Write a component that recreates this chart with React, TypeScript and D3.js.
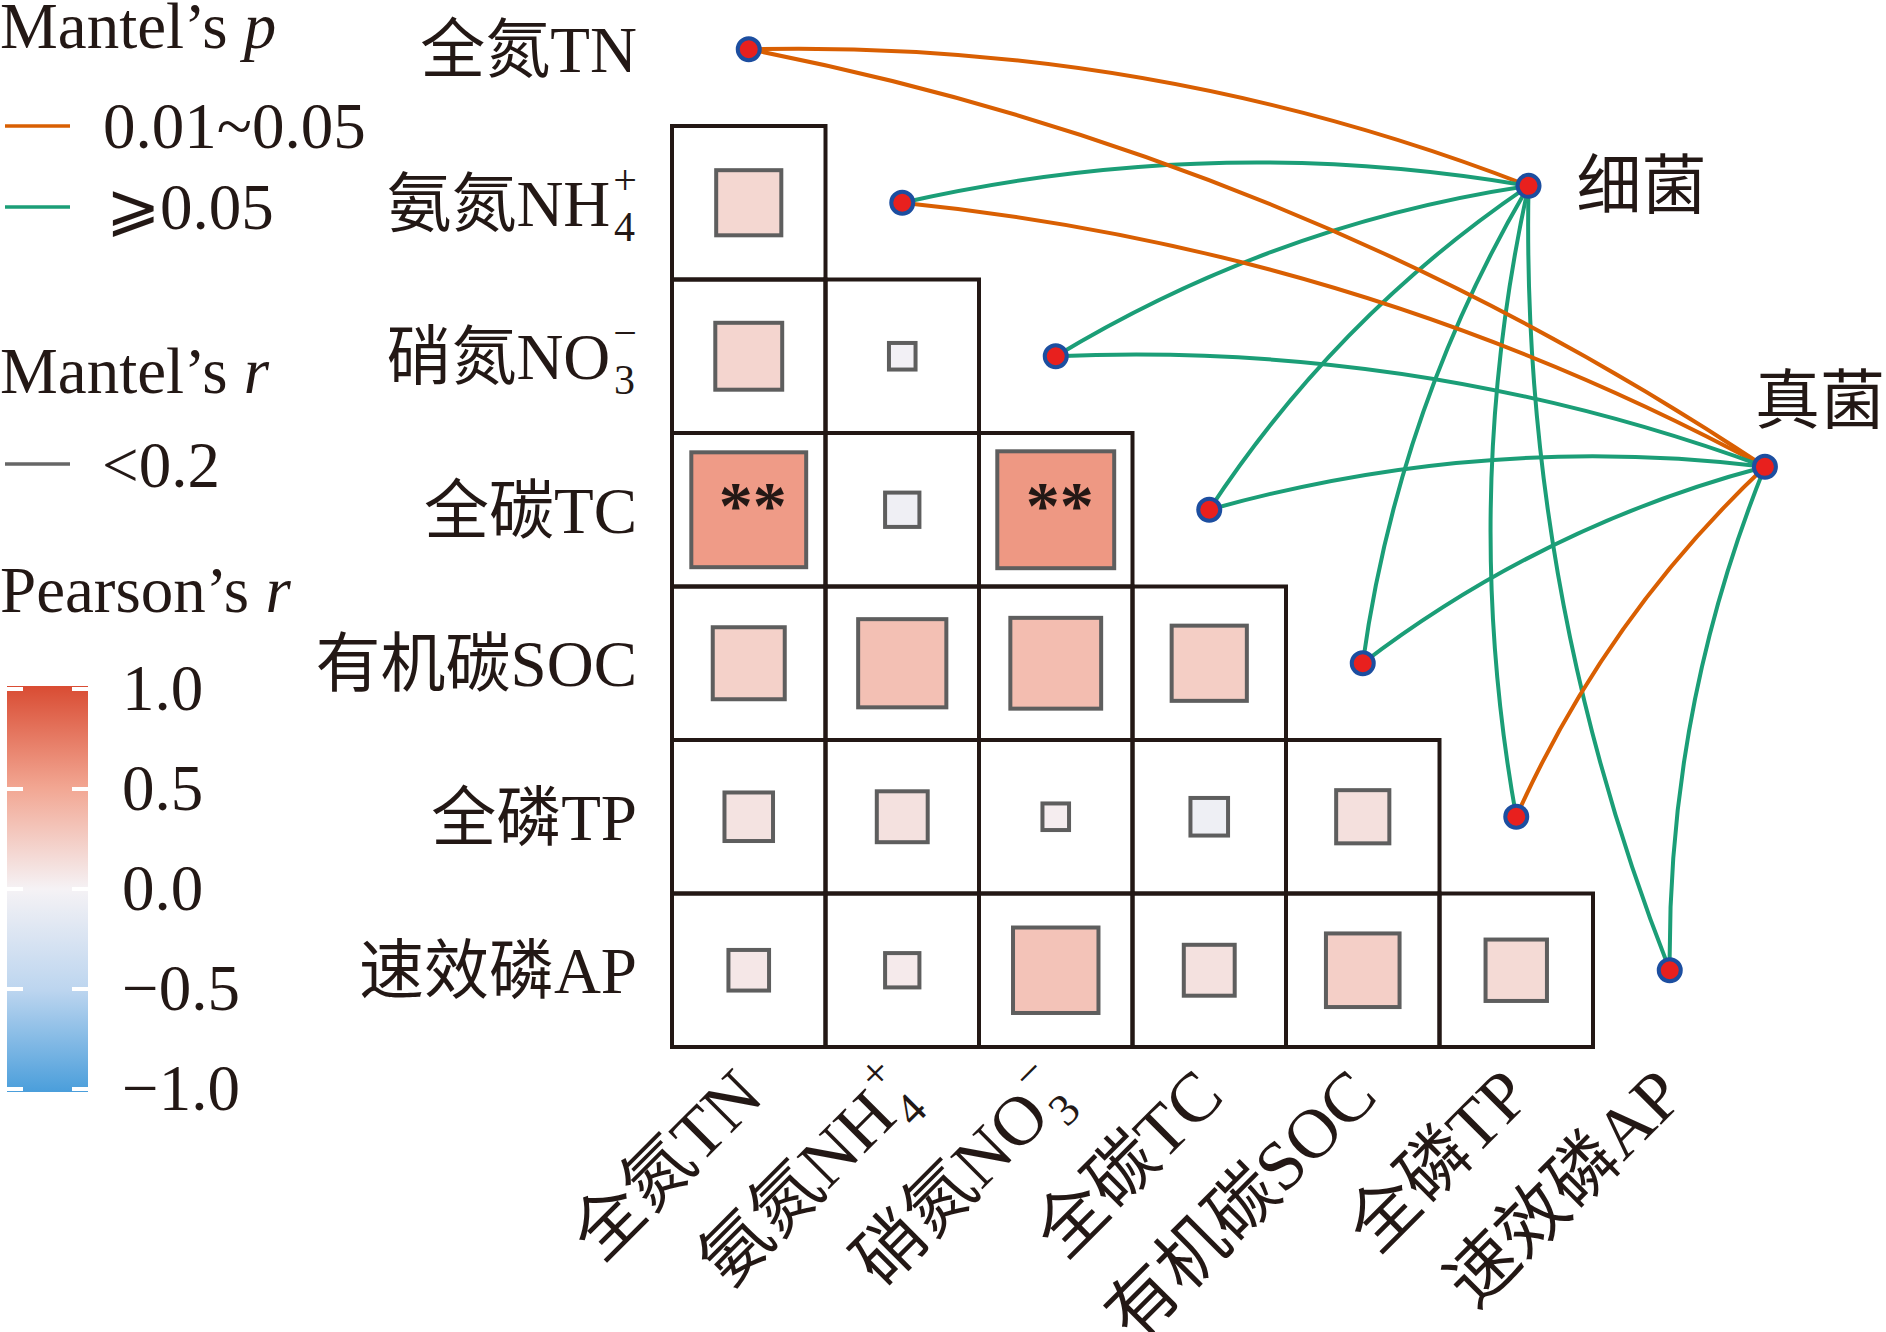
import React, { useEffect, useRef } from 'react';
import * as d3 from 'd3';

// ---- data ----
const varNames = ['全氮', '氨氮', '硝氮', '全碳', '有机碳', '全磷', '速效磷'];
const varCodes = ['TN', 'NH', 'NO', 'TC', 'SOC', 'TP', 'AP'];
const varSubs = ['', '4', '3', '', '', '', ''];
const varSups = ['', '+', '−', '', '', '', ''];

// Pearson's r, lower triangle: row i is variable i+1 against variables 0..i
const pearsonRows: number[][] = [
  [0.18],
  [0.19, -0.03],
  [0.56, -0.05, 0.58],
  [0.22, 0.33, 0.35, 0.24],
  [0.1, 0.11, 0.03, -0.06, 0.12],
  [0.07, 0.05, 0.31, 0.11, 0.23, 0.16],
];
// significance marks [row variable, column variable, mark]
const sigMarks: [number, number, string][] = [
  [3, 0, '**'],
  [3, 2, '**'],
];

// microbe groups and where they sit (in grid units)
const specNames = ['细菌', '真菌'];
const specGridX = [5.58, 7.12];
const specGridY = [0.39, 2.22];

// Mantel's p class per environmental variable (0 = 0.01~0.05, 1 = >=0.05)
const mantelPBacteria = [0, 1, 1, 1, 1, 1, 1];
const mantelPFungi = [0, 0, 1, 1, 1, 0, 1];
// Mantel's r class (0 = <0.2)
const mantelRBacteria = [0, 0, 0, 0, 0, 0, 0];
const mantelRFungi = [0, 0, 0, 0, 0, 0, 0];

const pLabels = ['0.01~0.05', '⩾0.05'];
const pColors = ['#D95F02', '#1B9E77'];
const rLabels = ['<0.2'];
const rWidths = [4];

const barTicks = [1, 0.5, 0, -0.5, -1];
const barTickLabels = ['1.0', '0.5', '0.0', '−0.5', '−1.0'];
const fillDomain = [-1, -0.5, 0, 0.5, 1];
const fillColors = ['#4a9edb', '#bcd5ef', '#f5f2f5', '#f2a692', '#d94c33'];

const FONT = "'Liberation Serif', 'Times New Roman', 'Noto Sans CJK SC', serif";
const INK = '#231815';

const App: React.FC = () => {
  const svgRef = useRef<SVGSVGElement>(null);

  useEffect(() => {
    if (!svgRef.current) return;
    const svg = d3.select(svgRef.current);
    svg.selectAll('*').remove();

    const x = d3.scaleLinear().domain([0, 6]).range([672, 672 + 6 * 153.5]);
    const y = d3.scaleLinear().domain([0, 6]).range([126, 126 + 6 * 153.5]);
    const cell = x(1) - x(0);
    const fill = d3.scaleLinear<string>().domain(fillDomain).range(fillColors);

    const fontSize = 65;
    const scriptSize = 42;

    // label with stacked sub/superscript
    const addVarLabel = (t: d3.Selection<SVGTextElement, unknown, null, undefined>, k: number, scale = 1) => {
      t.append('tspan').text(varNames[k] + varCodes[k]);
      if (varSups[k]) {
        t.append('tspan').attr('font-size', scriptSize * scale).attr('dx', 3 * scale).attr('dy', -32 * scale).text(varSups[k]);
        t.append('tspan').attr('font-size', scriptSize * scale).attr('dx', -23 * scale).attr('dy', 47 * scale).text(varSubs[k]);
      }
    };

    // ---- legend: Mantel's p ----
    const leg = svg.append('g').attr('font-family', FONT).attr('fill', INK).attr('font-size', fontSize);
    const title = (yy: number, main: string, it: string) => {
      const t = leg.append('text').attr('x', 0).attr('y', yy);
      t.append('tspan').text(main);
      t.append('tspan').attr('font-style', 'italic').text(it);
    };
    title(48, 'Mantel’s ', 'p');
    pLabels.forEach((lab, i) => {
      const yy = 126 + i * 81;
      leg.append('line').attr('x1', 5).attr('x2', 70).attr('y1', yy).attr('y2', yy)
        .attr('stroke', pColors[i]).attr('stroke-width', 3.5);
      leg.append('text').attr('x', i === 0 ? 103 : 106).attr('y', yy + 22).text(lab);
    });
    title(393, 'Mantel’s ', 'r');
    rLabels.forEach((lab, i) => {
      const yy = 464 + i * 81;
      leg.append('line').attr('x1', 5).attr('x2', 70).attr('y1', yy).attr('y2', yy)
        .attr('stroke', '#666666').attr('stroke-width', 3.5);
      leg.append('text').attr('x', 102).attr('y', yy + 23).text(lab);
    });
    title(612, 'Pearson’s ', 'r');

    // colour bar
    const cb = d3.scaleLinear().domain([1, -1]).range([689, 1089]);
    const defs = svg.append('defs');
    const grad = defs.append('linearGradient').attr('id', 'pearsonGrad')
      .attr('x1', 0).attr('y1', 0).attr('x2', 0).attr('y2', 1);
    [...fillDomain].reverse().forEach((v, i) => {
      grad.append('stop').attr('offset', `${(i / (fillDomain.length - 1)) * 100}%`).attr('stop-color', fill(v));
    });
    leg.append('rect').attr('x', 7).attr('y', cb(1) - 3).attr('width', 81).attr('height', cb(-1) - cb(1) + 6)
      .attr('fill', 'url(#pearsonGrad)');
    barTicks.forEach((v, i) => {
      const yy = cb(v);
      leg.append('line').attr('x1', 7).attr('x2', 23).attr('y1', yy).attr('y2', yy)
        .attr('stroke', '#fff').attr('stroke-width', 4);
      leg.append('line').attr('x1', 72).attr('x2', 88).attr('y1', yy).attr('y2', yy)
        .attr('stroke', '#fff').attr('stroke-width', 4);
      leg.append('text').attr('x', 122).attr('y', yy + 21).text(barTickLabels[i]);
    });

    // ---- correlation triangle ----
    const grid = svg.append('g');
    pearsonRows.forEach((row, ri) => {
      row.forEach((r, ci) => {
        grid.append('rect').attr('x', x(ci)).attr('y', y(ri)).attr('width', cell).attr('height', cell)
          .attr('fill', 'none').attr('stroke', INK).attr('stroke-width', 4);
        const side = Math.sqrt(Math.abs(r)) * cell;
        grid.append('rect')
          .attr('x', x(ci + 0.5) - side / 2).attr('y', y(ri + 0.5) - side / 2)
          .attr('width', side).attr('height', side)
          .attr('fill', fill(r)).attr('stroke', '#5e5e5e').attr('stroke-width', 4);
      });
    });
    sigMarks.forEach(([rv, cv, m]) => {
      grid.append('text').attr('x', x(cv + 0.5) + 4).attr('y', y(rv - 1 + 0.5) + 18)
        .attr('text-anchor', 'middle').attr('font-family', FONT).attr('font-size', 68)
        .attr('font-weight', 'bold').attr('fill', INK).text(m);
    });

    // row labels
    varNames.forEach((_, k) => {
      const t = svg.append('text').attr('x', 637).attr('y', y(k - 0.5) + 23)
        .attr('text-anchor', 'end').attr('font-family', FONT).attr('font-size', fontSize).attr('fill', INK);
      addVarLabel(t, k);
    });

    // column labels
    const colFont = 70;
    varNames.forEach((_, k) => {
      const px = x(k + 0.5) + 17;
      const py = y(6) + 52;
      const t = svg.append('text').attr('x', px).attr('y', py)
        .attr('transform', `rotate(-45,${px},${py})`)
        .attr('text-anchor', 'end').attr('font-family', FONT).attr('font-size', colFont).attr('fill', INK);
      addVarLabel(t, k, colFont / fontSize);
    });

    // ---- Mantel links ----
    const envPts = varNames.map((_, k) => [x(k + 0.5), y(k - 0.5)] as [number, number]);
    const specPts = specNames.map((_, s) => [x(specGridX[s]), y(specGridY[s])] as [number, number]);
    const curve = (a: [number, number], b: [number, number], curvature: number) => {
      const dx = b[0] - a[0], dy = b[1] - a[1];
      const L = Math.hypot(dx, dy);
      const nx = dy / L, ny = -dx / L;
      const cx = (a[0] + b[0]) / 2 + nx * curvature * L;
      const cy = (a[1] + b[1]) / 2 + ny * curvature * L;
      const p = d3.path();
      p.moveTo(a[0], a[1]);
      p.quadraticCurveTo(cx, cy, b[0], b[1]);
      return p.toString();
    };
    const links = svg.append('g').attr('fill', 'none');
    const pSets = [mantelPBacteria, mantelPFungi];
    const rSets = [mantelRBacteria, mantelRFungi];
    specNames.forEach((_, s) => {
      envPts.forEach((pt, k) => {
        links.append('path').attr('d', curve(pt, specPts[s], 0.1))
          .attr('stroke', pColors[pSets[s][k]]).attr('stroke-width', rWidths[rSets[s][k]]);
      });
    });

    const nodes = svg.append('g');
    [...envPts, ...specPts].forEach(pt => {
      nodes.append('circle').attr('cx', pt[0]).attr('cy', pt[1]).attr('r', 11)
        .attr('fill', '#e8201e').attr('stroke', '#1c4ea0').attr('stroke-width', 4);
    });

    // microbe labels
    const specOffsets: [number, number][] = [[48, 22], [-10, -44]];
    specNames.forEach((name, s) => {
      svg.append('text').attr('x', specPts[s][0] + specOffsets[s][0]).attr('y', specPts[s][1] + specOffsets[s][1])
        .attr('font-family', FONT).attr('font-size', fontSize).attr('fill', INK).text(name);
    });
  }, []);

  return (
    <svg ref={svgRef} width={1886} height={1332}
      style={{ position: 'absolute', left: 0, top: 0, background: '#fff' }} />
  );
};

export default App;
